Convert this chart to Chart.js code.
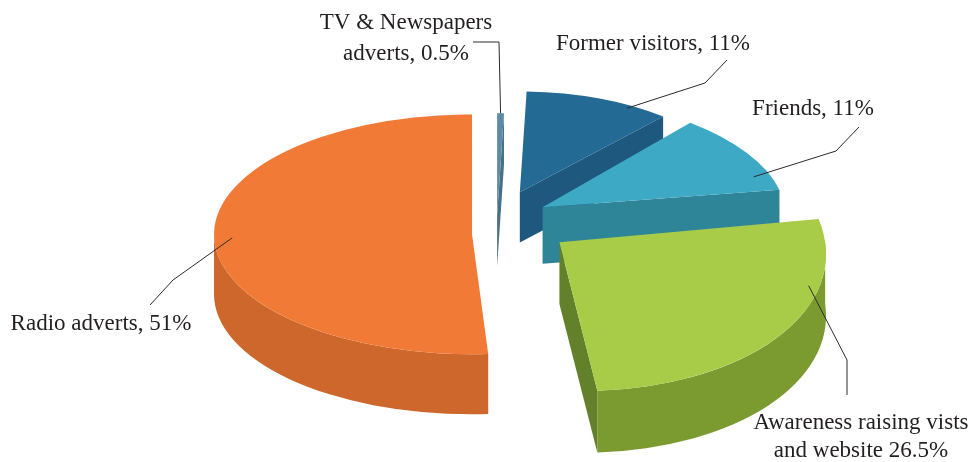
<!DOCTYPE html>
<html>
<head>
<meta charset="utf-8">
<script src="https://cdn.jsdelivr.net/npm/chart.js@4.4.1/dist/chart.umd.min.js"></script>
<style>
  html, body { margin: 0; padding: 0; background: #fff; }
  canvas { display: block; }
</style>
</head>
<body>
<canvas id="pieChart" width="976" height="462"></canvas>
<script>
// Where visitors heard about us (share of answers, %)
const categories = ['TV & Newspapers adverts', 'Former visitors', 'Friends', 'Awareness raising vists and website', 'Radio adverts'];
const shares = [0.5, 11, 11, 26.5, 51];

const topColors = ['#5d8ba6', '#236a94', '#3da9c5', '#a8cc48', '#f27a37'];
const wallColors = ['#4f7891', '#1d5479', '#2f8ea6', '#7b9b31', '#cd672c'];
const faceColors = ['#4a7088', '#1e587e', '#2e8598', '#62812a', '#c25f28'];

// label text, split over lines
const labelLines = [
    ['TV & Newspapers', `adverts, ${shares[0]}%`],
    [`Former visitors, ${shares[1]}%`],
    [`Friends, ${shares[2]}%`],
    ['Awareness raising vists', `and website ${shares[3]}%`],
    [`Radio adverts, ${shares[4]}%`]
];

// 3d look: centre, tilt and thickness of the disc
const CX = 497, CY = 219, TILT = 0.465, DEPTH = 60, RADIUS = 258;
// per slice: pull-out distance, size (fake perspective), own tilt, skew, extra drop
const sliceView = [
    { explode: 8,  size: 0.85, tilt: TILT, skew: 0,    drop: 0 },
    { explode: 62, size: 0.84, tilt: TILT, skew: 0,    drop: 0 },
    { explode: 52, size: 0.94, tilt: TILT, skew: 0.07, drop: 0 },
    { explode: 80, size: 1.03, tilt: 0.56, skew: 0.08, drop: 0 },
    { explode: 25, size: 1.0,  tilt: TILT, skew: 0,    drop: 15 }
];
const drawOrder = [0, 1, 2, 4, 3];

// label placement: anchor inside slice (t along arc, f of radius), leader bend, text
const labelLayout = [
    { t: 0.5,  f: 1.0,  bend: [499, 42],  end: [473, 42],  x: 406, y: 29, lh: 31 },
    { t: 0.73, f: 0.97, bend: [705, 83],  end: [727, 60],  x: 653, y: 50, lh: 31 },
    { t: 0.8,  f: 0.93, bend: [836, 151], end: [859, 127], x: 813, y: 115, lh: 31 },
    { t: 0.28, f: 0.96, bend: [847, 360], end: [847, 395], x: 861, y: 429, lh: 28 },
    { t: 0.5,  f: 0.93, bend: [173, 280], end: [150, 305], x: 101, y: 330, lh: 31 }
];

// puts the ctx into the slice's own (tilted, pulled out) space; dy lowers it on screen
function placeSlice(ctx, base, arc, i, dy) {
    const v = sliceView[i];
    const mid = (arc.startAngle + arc.endAngle) / 2;
    ctx.setTransform(base);
    ctx.translate(CX + Math.cos(mid) * v.explode,
                  CY + Math.sin(mid) * v.explode * TILT + v.drop + dy);
    ctx.scale(v.size, v.size * v.tilt);
    ctx.transform(1, 0, v.skew, 1, 0, 0);
    ctx.translate(-arc.x, -arc.y);
}

function drawWall(ctx, base, arc, i, depth) {
    // only the front half of the rim is visible
    const { x, y, startAngle, endAngle, outerRadius: r } = arc;
    [[0, Math.PI], [2 * Math.PI, 3 * Math.PI]].forEach(([lo, hi]) => {
        const s = Math.max(startAngle, lo), e = Math.min(endAngle, hi);
        if (e <= s) return;
        ctx.beginPath();
        placeSlice(ctx, base, arc, i, 0);
        ctx.arc(x, y, r, s, e);
        placeSlice(ctx, base, arc, i, depth);
        ctx.arc(x, y, r, e, s, true);
        ctx.closePath();
        ctx.fill();
    });
}

function drawFace(ctx, base, arc, i, a, depth) {
    const { x, y, outerRadius: r } = arc;
    const px = x + r * Math.cos(a), py = y + r * Math.sin(a);
    ctx.beginPath();
    placeSlice(ctx, base, arc, i, 0);
    ctx.moveTo(x, y);
    ctx.lineTo(px, py);
    placeSlice(ctx, base, arc, i, depth);
    ctx.lineTo(px, py);
    ctx.lineTo(x, y);
    ctx.closePath();
    ctx.fill();
}

const pie3d = {
    id: 'pie3d',
    beforeDatasetsDraw(chart) {
        const ctx = chart.ctx;
        const arcs = chart.getDatasetMeta(0).data;
        ctx.save();
        const base = ctx.getTransform();
        drawOrder.forEach(i => {
            const arc = arcs[i];
            const depth = DEPTH * sliceView[i].size;
            ctx.fillStyle = wallColors[i];
            drawWall(ctx, base, arc, i, depth);
            // radial side faces, only those turned toward the viewer
            ctx.fillStyle = faceColors[i];
            if (Math.sin(arc.startAngle - Math.PI / 2) > 0) drawFace(ctx, base, arc, i, arc.startAngle, depth);
            if (Math.sin(arc.endAngle + Math.PI / 2) > 0) drawFace(ctx, base, arc, i, arc.endAngle, depth);
            placeSlice(ctx, base, arc, i, 0);
            arc.draw(ctx);
        });
        ctx.restore();
        return false;
    },
    afterDraw(chart) {
        const ctx = chart.ctx;
        const arcs = chart.getDatasetMeta(0).data;
        ctx.save();
        const base = ctx.getTransform();
        const anchors = labelLayout.map((lab, i) => {
            const arc = arcs[i];
            const ang = arc.startAngle + lab.t * (arc.endAngle - arc.startAngle);
            const r = lab.f * arc.outerRadius;
            placeSlice(ctx, base, arc, i, 0);
            const p = ctx.getTransform().transformPoint(
                new DOMPoint(arc.x + Math.cos(ang) * r, arc.y + Math.sin(ang) * r));
            return [p.x, p.y];
        });
        ctx.setTransform(base);
        ctx.strokeStyle = '#2b2b2b';
        ctx.lineWidth = 1;
        labelLayout.forEach((lab, i) => {
            ctx.beginPath();
            ctx.moveTo(anchors[i][0], anchors[i][1]);
            ctx.lineTo(lab.bend[0], lab.bend[1]);
            ctx.lineTo(lab.end[0], lab.end[1]);
            ctx.stroke();
        });
        ctx.fillStyle = '#231f20';
        ctx.font = '23px "Liberation Serif", "DejaVu Serif", serif';
        ctx.textAlign = 'center';
        ctx.textBaseline = 'alphabetic';
        labelLayout.forEach((lab, i) => {
            labelLines[i].forEach((line, k) => {
                ctx.fillText(line, lab.x, lab.y + k * lab.lh);
            });
        });
        ctx.restore();
    }
};

new Chart(document.getElementById('pieChart'), {
    type: 'pie',
    data: {
        labels: categories,
        datasets: [{
            data: shares,
            backgroundColor: topColors,
            borderWidth: 0,
            offset: 0,
            radius: RADIUS
        }]
    },
    options: {
        responsive: false,
        animation: false,
        devicePixelRatio: 1,
        radius: RADIUS,
        events: [],
        plugins: {
            legend: { display: false },
            tooltip: { enabled: false }
        }
    },
    plugins: [pie3d]
});
</script>
</body>
</html>
